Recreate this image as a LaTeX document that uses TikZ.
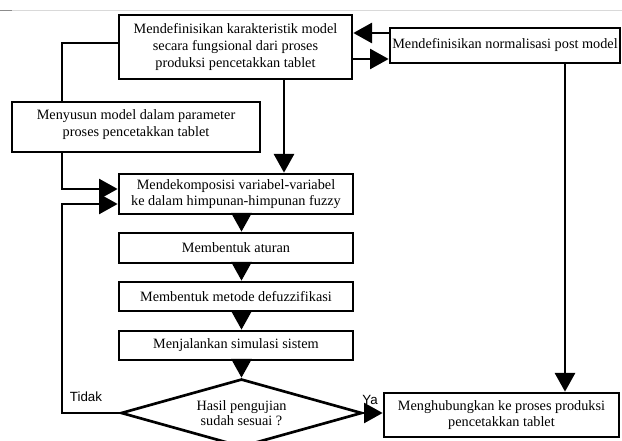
\documentclass[tikz,border=0pt]{standalone}
\usepackage{fontspec}
\setmainfont{Liberation Serif}
\newfontfamily\labelfont{Liberation Sans}
\usetikzlibrary{arrows.meta,shapes.geometric}
\begin{document}
\begin{tikzpicture}[x=0.75pt,y=-0.75pt,
  box/.style={draw,line width=2pt,rectangle,inner sep=0pt,align=center,
    font=\fontsize{10.7}{12.4}\selectfont},
  dec/.style={draw,line width=2pt,diamond,aspect=3.5,inner sep=0pt,align=center,
    minimum width=180.75pt,minimum height=51pt,font=\fontsize{10.7}{11.6}\selectfont},
  conn/.style={line width=2pt},
  arr/.style={conn,-{Triangle[length=14pt,width=15pt]}},
  lbl/.style={font=\labelfont\fontsize{10}{12}\selectfont,inner sep=0pt}
]
\useasboundingbox (0,0) rectangle (622,441);
\draw[black!15,line width=0.75pt] (0,11) -- (622,11);
\draw[black!45,line width=0.75pt] (0,11) -- (12,11);

\node[box,minimum width=174.75pt,minimum height=48pt] (A) at (235.5,47)
  {Mendefinisikan karakteristik model\\secara fungsional dari proses\\produksi pencetakkan tablet};
\node[box,minimum width=172.5pt,minimum height=26.25pt] (B) at (505,45.5)
  {Mendefinisikan normalisasi post model};
\node[box,minimum width=186pt,minimum height=37.5pt] (C) at (136,127)
  {Menyusun model dalam parameter\\proses pencetakkan tablet\\[-6.4pt]};
\node[box,minimum width=175.5pt,minimum height=30pt] (D) at (236,194)
  {Mendekomposisi variabel-variabel\\ke dalam himpunan-himpunan fuzzy};
\node[box,minimum width=175.5pt,minimum height=22.5pt] (E) at (236,248)
  {Membentuk aturan};
\node[box,minimum width=175.5pt,minimum height=21.75pt] (F) at (236,296.5)
  {Membentuk metode defuzzifikasi};
\node[box,minimum width=175.5pt,minimum height=21.75pt] (G) at (236,345.5)
  {Menjalankan simulasi sistem};
\node[dec] (K) at (241.5,413) {Hasil pengujian\\sudah sesuai ?};
\node[box,minimum width=176.25pt,minimum height=33pt] (H) at (501.5,415)
  {Menghubungkan ke proses produksi\\pencetakkan tablet};

\node[lbl] (tidak) at (86,397) {Tidak};
\node[lbl] (ya) at (370,400) {Ya};

\draw[arr] (B.west |- 0,33) -- (A.east |- 0,33);
\draw[arr] (A.east |- 0,59) -- (B.west |- 0,59);
\draw[conn] (A.west |- 0,43) -| (C.north -| 62,0);
\draw[arr] (C.south -| 62,0) |- (D.west |- 0,189);
\draw[arr] (K.west) -| (62,300) |- (D.west |- 0,204);
\draw[arr] (A.south -| 284,0) -- (D.north -| 284,0);
\draw[arr] (D.south -| 241.5,0) -- (E.north -| 241.5,0);
\draw[arr] (E.south -| 241.5,0) -- (F.north -| 241.5,0);
\draw[arr] (F.south -| 241.5,0) -- (G.north -| 241.5,0);
\draw[arr] (G.south -| 241.5,0) -- (K.north);
\draw[arr] (K.east) -- (H.west |- K.east);
\draw[arr] (B.south -| 565,0) -- (H.north -| 565,0);
\end{tikzpicture}
\end{document}
